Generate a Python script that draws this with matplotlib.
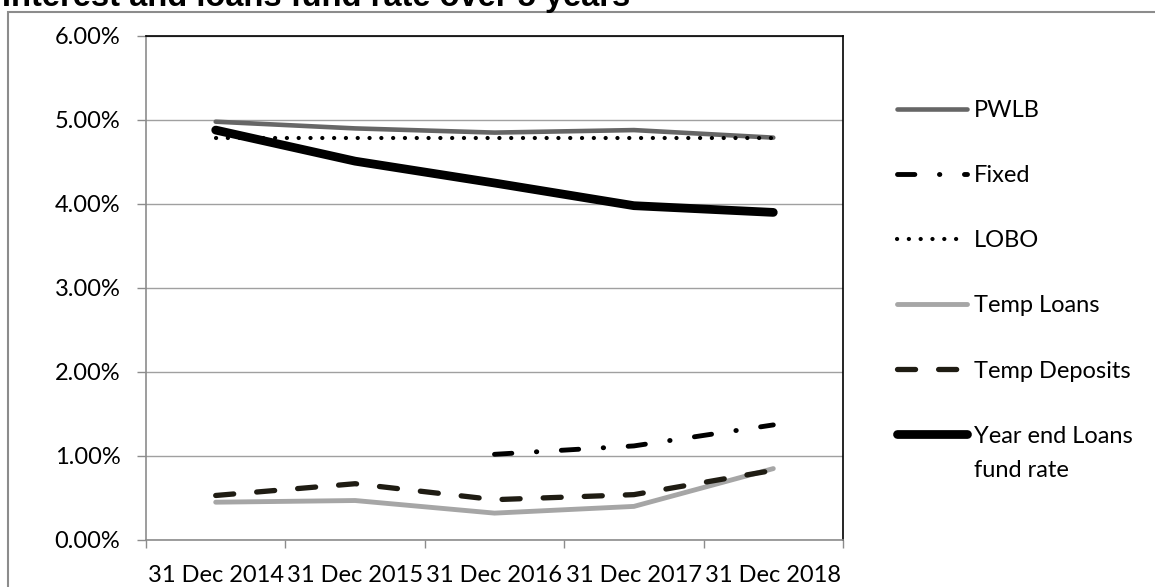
import matplotlib
matplotlib.use("Agg")
import matplotlib.pyplot as plt
from matplotlib.patches import Rectangle
from matplotlib.ticker import FuncFormatter
import numpy as np

plt.rcParams["font.family"] = ["Lato", "DejaVu Sans"]
plt.rcParams["lines.scale_dashes"] = False

# data (percent)
years = ["31 Dec 2014", "31 Dec 2015", "31 Dec 2016", "31 Dec 2017", "31 Dec 2018"]
pwlb = [4.98, 4.90, 4.85, 4.88, 4.79]
fixed = [np.nan, np.nan, 1.02, 1.12, 1.37]
lobo = [4.79, 4.79, 4.79, 4.79, 4.79]
temp_loans = [0.45, 0.47, 0.32, 0.40, 0.85]
temp_deposits = [0.53, 0.67, 0.48, 0.54, 0.83]
year_end = [4.88, 4.51, 4.25, 3.98, 3.90]

x = np.arange(len(years))

fig = plt.figure(figsize=(11.55, 5.87), dpi=100)
ax = fig.add_axes([146/1155, 47/587, (843-146)/1155, (540-36)/587])

ax.plot(x, pwlb, color="#666666", lw=3.3, solid_capstyle="round", label="PWLB")
ax.plot(x, fixed, color="black", lw=3.5, dashes=(12.5, 17.7, 0.3, 17.7),
        dash_capstyle="round", label="Fixed")
ax.plot(x, lobo, color="black", lw=3.0, dashes=(0.1, 8.4),
        dash_capstyle="round", label="LOBO")
ax.plot(x, temp_loans, color="#a6a6a6", lw=3.5, solid_capstyle="round",
        label="Temp Loans")
ax.plot(x, temp_deposits, color="#1f1c13", lw=3.8, dashes=(13, 16.6),
        dash_capstyle="round", label="Temp Deposits")
ax.plot(x, year_end, color="black", lw=6.3, solid_capstyle="round",
        label="Year end Loans")

ax.set_xlim(-0.5, len(years) - 0.5)
ax.set_ylim(0, 6)
ax.set_yticks(np.arange(0, 7, 1))
ax.yaxis.set_major_formatter(FuncFormatter(lambda v, p: f"{v:.2f}%"))
ax.set_xticks(x)
ax.set_xticklabels(years)
ax.set_xticks(np.arange(-0.5, len(years), 1), minor=True)
ax.grid(axis="y", color="#a0a0a0", lw=1.0)
ax.set_axisbelow(True)

ax.tick_params(axis="y", length=6.5, width=1.0, color="#8c8c8c", pad=12,
               labelsize=17, labelcolor="black")
ax.tick_params(axis="x", which="major", length=0, pad=18, labelsize=17)
ax.tick_params(axis="x", which="minor", length=6, width=1.0, color="#8c8c8c")

for s in ["top", "right"]:
    ax.spines[s].set_color("black")
    ax.spines[s].set_linewidth(1.2)
for s in ["left", "bottom"]:
    ax.spines[s].set_color("#8c8c8c")
    ax.spines[s].set_linewidth(1.2)

leg = fig.legend(loc="upper left", bbox_to_anchor=(897/1155, (587-100)/587),
                 bbox_transform=fig.transFigure, frameon=False, fontsize=17,
                 handlelength=2.95, handletextpad=0.3, labelspacing=1.87,
                 borderpad=0, borderaxespad=0)

# outer chart border and the clipped title
fig.patches.append(Rectangle((8/1155, -0.1), 1.2, (587-12)/587 + 0.1,
                             transform=fig.transFigure, fill=False,
                             edgecolor="#8c8c8c", lw=1.5))
fig.text(2/1155, (587-6)/587, "Interest and loans fund rate over 5 years",
         fontsize=23.5, fontweight="bold", family="Liberation Sans",
         va="baseline", ha="left")

# second line of the last legend label, hanging under its first line
fig.canvas.draw()
ax.annotate("fund rate", xy=(0, 0.5), xycoords=leg.get_texts()[-1],
            xytext=(0, -34), textcoords="offset pixels", fontsize=17,
            va="center", ha="left", annotation_clip=False)

fig.savefig("out.png", dpi=100, facecolor="white")
